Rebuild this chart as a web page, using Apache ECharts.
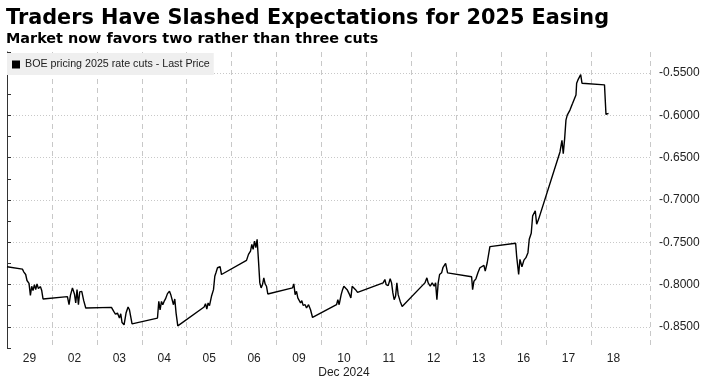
<!DOCTYPE html>
<html>
<head>
<meta charset="utf-8">
<script src="https://cdn.jsdelivr.net/npm/echarts@6/dist/echarts.min.js"></script>
<style>
html,body{margin:0;padding:0;background:#fff;}
#chart{width:708px;height:382px;}
</style>
</head>
<body>
<div id="chart"></div>
<script>
// Trading-day position (0 = start of 29 Nov session; each session = 1 unit)
const days = [
0.000,0.343,0.372,0.416,0.445,0.490,0.521,0.550,0.579,0.610,0.639,0.668,0.699,0.744,0.773,0.802,
1.345,1.381,1.412,1.457,1.501,1.530,1.559,1.590,1.619,1.664,1.708,1.753,
2.325,2.376,2.414,2.459,2.503,2.532,2.561,2.606,2.650,2.695,2.726,2.755,2.784,
3.350,3.379,3.408,3.439,3.468,3.497,3.528,3.572,3.617,3.646,3.675,3.706,3.735,3.764,3.802,
4.388,4.419,4.448,4.477,4.508,4.552,4.597,4.626,4.655,4.686,4.715,4.744,4.775,
5.332,5.376,5.421,5.450,5.479,5.510,5.539,5.568,5.599,5.628,5.657,5.688,5.717,5.746,5.777,5.806,
6.356,6.385,6.414,6.445,6.474,6.503,6.535,6.563,6.592,6.637,6.668,6.713,6.757,6.802,
7.336,7.365,7.394,7.439,7.470,7.499,7.543,7.572,7.626,7.655,7.684,7.728,7.759,7.804,
8.374,8.412,8.441,8.486,8.530,8.561,8.590,8.619,8.650,8.679,8.708,8.753,8.797,
9.303,9.347,9.376,9.421,9.465,9.510,9.541,9.570,9.599,9.630,9.675,9.704,9.733,9.764,9.808,
10.343,10.365,10.394,10.439,10.483,10.528,10.572,10.617,10.646,10.690,10.750,
11.323,11.345,11.390,11.419,11.463,11.508,11.552,11.597,11.626,11.670,11.702,11.731,11.760,11.791,11.835,
12.310,12.354,12.383,12.414,12.443,12.472,12.503,12.532,12.561,12.592,12.621,12.666,12.681,12.710,12.739,12.771,12.800,
13.301,13.334,13.363,13.390
];
// BOE pricing of 2025 rate cuts (last price)
const values = [
-0.7789,-0.7818,-0.7849,-0.7881,-0.7952,-0.7985,-0.8127,-0.8020,-0.8071,-0.8000,-0.8060,-0.7992,-0.8048,-0.8024,-0.8071,-0.8170,
-0.8143,-0.8238,-0.8127,-0.8039,-0.8111,-0.8218,-0.8060,-0.8238,-0.8087,-0.8080,-0.8190,-0.8277,
-0.8270,-0.8318,-0.8349,-0.8337,-0.8396,-0.8345,-0.8449,-0.8476,-0.8337,-0.8265,-0.8298,-0.8318,-0.8464,
-0.8396,-0.8199,-0.8298,-0.8199,-0.8238,-0.8199,-0.8170,-0.8107,-0.8080,-0.8119,-0.8139,-0.8238,-0.8170,-0.8337,-0.8488,
-0.8265,-0.8226,-0.8289,-0.8218,-0.8250,-0.8139,-0.8060,-0.7901,-0.7854,-0.7801,-0.7813,-0.7789,-0.7881,
-0.7714,-0.7643,-0.7604,-0.7524,-0.7583,-0.7485,-0.7563,-0.7464,-0.7723,-0.7980,-0.8039,-0.8000,-0.7920,-0.7992,-0.8020,-0.8111,
-0.8039,-0.7992,-0.8119,-0.8080,-0.8158,-0.8139,-0.8218,-0.8190,-0.8246,-0.8238,-0.8277,-0.8238,-0.8298,-0.8389,
-0.8238,-0.8179,-0.8238,-0.8119,-0.8060,-0.8020,-0.8000,-0.8060,-0.8119,-0.8158,-0.8020,-0.8020,-0.8060,-0.8092,
-0.7980,-0.7940,-0.8000,-0.8012,-0.7932,-0.7980,-0.8099,-0.8179,-0.8139,-0.7980,-0.8119,-0.8199,-0.8258,
-0.7980,-0.7920,-0.7980,-0.8020,-0.7980,-0.8020,-0.7980,-0.8179,-0.7980,-0.7881,-0.7861,-0.7801,-0.7821,-0.7750,-0.7861,
-0.7908,-0.8060,-0.7961,-0.7932,-0.7861,-0.7801,-0.7821,-0.7774,-0.7842,-0.7742,-0.7551,
-0.7512,-0.7663,-0.7881,-0.7702,-0.7789,-0.7711,-0.7682,-0.7623,-0.7464,-0.7393,-0.7187,-0.7167,-0.7127,-0.7286,-0.7226,
-0.6432,-0.6294,-0.6452,-0.6274,-0.6056,-0.5996,-0.6015,-0.5937,-0.5896,-0.5857,-0.5818,-0.5758,-0.5619,-0.5580,-0.5560,-0.5518,-0.5619,
-0.5639,-0.5988,-0.5994,-0.5976
];
const dayLabels = ['29','02','03','04','05','06','09','10','11','12','13','16','17','18'];
const monthLabel = 'Dec 2024';
const monthLabelDay = '10';
const seriesName = 'BOE pricing 2025 rate cuts - Last Price';
const titleText = 'Traders Have Slashed Expectations for 2025 Easing';
const subtitleText = 'Market now favors two rather than three cuts';

const chart = echarts.init(document.getElementById('chart'), null, {renderer: 'canvas'});
const labelCenters = dayLabels.map((_, i) => i + 0.5);
// one colour per day boundary; the boundary after the last (partial) session is not drawn
const vLineColors = dayLabels.map(() => '#c8c8c8').concat(['rgba(0,0,0,0)']);

chart.setOption({
  animation: false,
  backgroundColor: '#ffffff',
  title: [
    {text: titleText, left: 6, top: 8, padding: 0,
     textStyle: {fontFamily: 'DejaVu Sans', fontWeight: 'bold', fontSize: 20.8, color: '#000'}},
    {text: subtitleText, left: 6, top: 32, padding: 0,
     textStyle: {fontFamily: 'DejaVu Sans', fontWeight: 'bold', fontSize: 14.4, color: '#000'}}
  ],
  legend: {
    left: 7, top: 53, padding: [6, 4, 5, 5],
    backgroundColor: '#efefef',
    icon: 'rect', itemWidth: 8, itemHeight: 8,
    textStyle: {fontFamily: 'Liberation Sans', fontSize: 10.7, color: '#222'},
    data: [seriesName]
  },
  grid: {left: 7, right: 58, top: 52, bottom: 34, outerBoundsMode: 'none'},
  xAxis: {
    type: 'value', min: 0, max: 14.314, interval: 1,
    axisLine: {show: false},
    axisTick: {show: false},
    splitLine: {show: true, lineStyle: {color: vLineColors, type: [5, 4], width: 1}},
    axisLabel: {
      customValues: labelCenters,
      margin: 4,
      fontFamily: 'Liberation Sans', fontSize: 12, color: '#222', lineHeight: 14,
      formatter: function (v) {
        const i = Math.round(v - 0.5);
        const s = dayLabels[i] || '';
        return s === monthLabelDay ? s + '\n' + monthLabel : s;
      }
    }
  },
  yAxis: {
    type: 'value', position: 'right', min: -0.875, max: -0.525, interval: 0.025,
    axisLine: {show: true, lineStyle: {color: '#333', width: 1}},
    axisTick: {show: true, length: 4, lineStyle: {color: '#333'}},
    splitLine: {show: true, lineStyle: {color: ['rgba(0,0,0,0)', '#c8c8c8'], type: [1, 2], width: 1}},
    axisLabel: {
      margin: 9, fontFamily: 'Liberation Sans', fontSize: 12, color: '#222',
      formatter: function (v) {
        const k = Math.round(v * 1000);
        return (k % 50 === 0) ? v.toFixed(4) : '';
      }
    }
  },
  series: [{
    name: seriesName,
    type: 'line',
    data: days.map((d, i) => [d, values[i]]),
    showSymbol: false,
    symbol: 'none',
    itemStyle: {color: '#000'},
    lineStyle: {color: '#000', width: 1.4},
    z: 5
  }]
});
</script>
</body>
</html>
